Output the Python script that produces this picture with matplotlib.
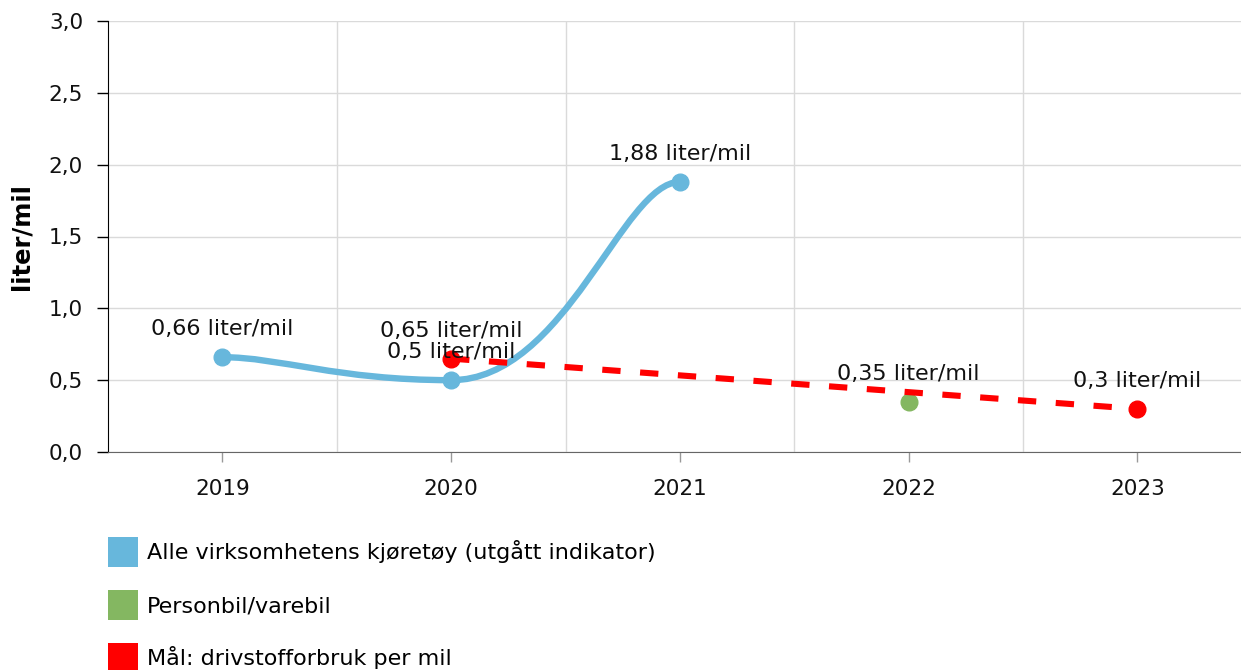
import matplotlib
matplotlib.use("Agg")
import matplotlib.pyplot as plt
from matplotlib.path import Path
from matplotlib.patches import PathPatch, Patch
from matplotlib.ticker import FuncFormatter

# data
alle_years = [2019, 2020, 2021]
alle_vals = [0.66, 0.5, 1.88]
person_years = [2022]
person_vals = [0.35]
maal_years = [2020, 2023]
maal_vals = [0.65, 0.3]
years = [2019, 2020, 2021, 2022, 2023]
unit = "liter/mil"
legend_labels = ["Alle virksomhetens kjøretøy (utgått indikator)",
                 "Personbil/varebil",
                 "Mål: drivstofforbruk per mil"]

blue = "#67b7dc"
green = "#84b761"
red = "#ff0000"


def smooth_path(xs, ys, tx=0.25, ty=0.0):
    # tension-style smoothing, end points repeated
    n = len(xs)
    verts = [(xs[0], ys[0])]
    codes = [Path.MOVETO]
    for i in range(n - 1):
        i0 = max(i - 1, 0)
        i3 = min(i + 2, n - 1)
        ca = (xs[i] + tx * (xs[i + 1] - xs[i0]), ys[i] + ty * (ys[i + 1] - ys[i0]))
        cb = (xs[i + 1] - tx * (xs[i3] - xs[i]), ys[i + 1] - ty * (ys[i3] - ys[i]))
        verts += [ca, cb, (xs[i + 1], ys[i + 1])]
        codes += [Path.CURVE4] * 3
    return Path(verts, codes)


def fmt(v):
    return f"{v:g}".replace(".", ",") + " " + unit


fig = plt.figure(figsize=(12.41, 6.70), dpi=100)
ax = fig.add_axes([108 / 1241, 1 - 452 / 670, 1133 / 1241, 431 / 670])

ax.set_xlim(2018.5, 2018.5 + 1133 / 228.75)
ax.set_ylim(0, 3.0)
ax.set_yticks([0, 0.5, 1.0, 1.5, 2.0, 2.5, 3.0])
ax.yaxis.set_major_formatter(FuncFormatter(lambda v, p: f"{v:.1f}".replace(".", ",")))
ax.set_xticks(years)
ax.set_xticks([2019.5, 2020.5, 2021.5, 2022.5], minor=True)

ax.grid(axis="y", which="major", color="#dadada", lw=1)
ax.grid(axis="x", which="minor", color="#dadada", lw=1)
ax.set_axisbelow(True)

for s in ["top", "right"]:
    ax.spines[s].set_visible(False)
ax.spines["left"].set_color("#000000")
ax.spines["bottom"].set_color("#666666")
ax.tick_params(axis="y", length=8, width=1, color="#000000", labelsize=15.5, pad=10, labelcolor="#111111")
ax.tick_params(axis="x", which="major", length=7, width=1, color="#999999", labelsize=15.5, pad=12.5, labelcolor="#111111")
ax.tick_params(axis="x", which="minor", length=0)

ax.set_ylabel(unit, fontsize=17.5, fontweight="bold", color="#000000")
ax.yaxis.set_label_coords(-0.0654, 0.5)

# blue smooth line
ax.add_patch(PathPatch(smooth_path(alle_years, alle_vals), fill=False, edgecolor=blue,
                       lw=4.6, capstyle="round", zorder=3))
ax.plot(alle_years, alle_vals, "o", color=blue, ms=12, zorder=4)

# green point
ax.plot(person_years, person_vals, "o", color=green, ms=12, zorder=4)

# red target dashed
ax.plot(maal_years, maal_vals, color=red, lw=4.4, dashes=(3, 3.2), zorder=5)
ax.plot(maal_years, maal_vals, "o", color=red, ms=12, zorder=6)

for xs, ys in [(alle_years, alle_vals), (person_years, person_vals), (maal_years, maal_vals)]:
    for x, y in zip(xs, ys):
        ax.annotate(fmt(y), (x, y), xytext=(0, 20), textcoords="offset points",
                    ha="center", va="center", fontsize=16, color="#111111", zorder=7)

handles = [Patch(facecolor=c, edgecolor="none") for c in [blue, green, red]]
fig.legend(handles, legend_labels, loc="upper left",
           bbox_to_anchor=(108 / 1241, 1 - 537 / 670), frameon=False,
           fontsize=16, handlelength=1.35, handleheight=1.7,
           labelspacing=1.04, handletextpad=0.4, borderpad=0, borderaxespad=0)

fig.savefig("out.png", dpi=100)
